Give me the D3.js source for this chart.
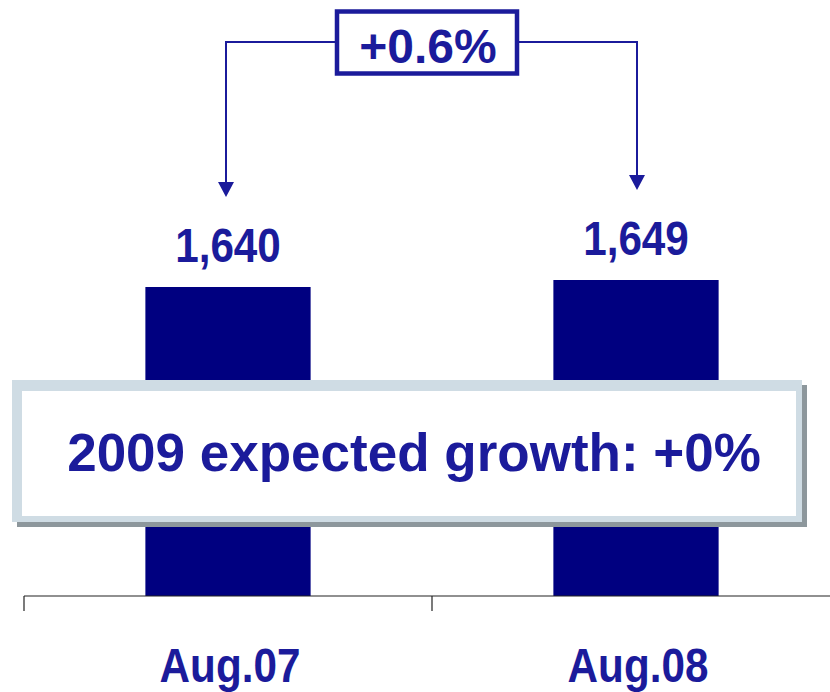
<!DOCTYPE html>
<html>
<head>
<meta charset="utf-8">
<script src="https://cdn.jsdelivr.net/npm/d3@7"></script>
<style>
  html, body { margin: 0; padding: 0; background: #ffffff; }
  svg { display: block; }
  text { font-family: "Liberation Sans", Arial, sans-serif; font-weight: bold; }
</style>
</head>
<body>
<svg id="chart" width="830" height="692"></svg>
<script>
// ---- data ----
const categories = ["Aug.07", "Aug.08"];
const values = [1640, 1649];
const valueLabels = ["1,640", "1,649"];
const changeLabel = "+0.6%";
const noteText = "2009 expected growth: +0%";
const yMin = 1243;

// ---- styles ----
const barColor = "#000080";
const textColor = "#1b1b9b";

const svg = d3.select("#chart");
const W = 830, H = 692;

const x = d3.scaleBand().domain(categories).range([24, 840]).paddingInner(0).paddingOuter(0);
const y = d3.scaleLinear().domain([yMin, d3.max(values)]).range([596, 280]);
const barW = x.bandwidth() * 0.405;
const cx = c => x(c) + x.bandwidth() / 2;

// bars
svg.append("g").selectAll("rect").data(categories).join("rect")
  .attr("x", c => cx(c) - barW / 2)
  .attr("y", (c, i) => y(values[i]))
  .attr("width", barW)
  .attr("height", (c, i) => y(yMin) - y(values[i]))
  .attr("fill", barColor);

// axis line + ticks
const axisY = y(yMin);
const ax = svg.append("g").attr("stroke", "#222").attr("stroke-width", 1.2);
ax.append("line").attr("x1", x.range()[0]).attr("x2", W).attr("y1", axisY).attr("y2", axisY);
ax.selectAll("line.tick").data(categories).join("line").attr("class", "tick")
  .attr("x1", c => x(c)).attr("x2", c => x(c))
  .attr("y1", axisY).attr("y2", axisY + 15);

// category labels (condensed)
svg.append("g").selectAll("text").data(categories).join("text")
  .attr("transform", c => `translate(${cx(c) + 2},682) scale(0.88,1)`)
  .attr("text-anchor", "middle")
  .attr("font-size", 48)
  .attr("fill", textColor)
  .text(c => c);

// value labels
svg.append("g").selectAll("text").data(categories).join("text")
  .attr("transform", (c, i) => `translate(${cx(c)},${y(values[i]) - 25}) scale(0.88,1)`)
  .attr("text-anchor", "middle")
  .attr("font-size", 48)
  .attr("fill", textColor)
  .text((c, i) => valueLabels[i]);

// overlay note box
const nb = svg.append("g");
nb.append("rect").attr("x", 17).attr("y", 385).attr("width", 790).attr("height", 142).attr("fill", "#8d979c");
nb.append("rect").attr("x", 12).attr("y", 380).attr("width", 790).attr("height", 142).attr("fill", "#cfdce4");
nb.append("rect").attr("x", 22).attr("y", 391).attr("width", 774).attr("height", 125).attr("fill", "#ffffff");
nb.append("text").attr("x", 414).attr("y", 471).attr("text-anchor", "middle")
  .attr("font-size", 53).attr("fill", textColor).text(noteText);

// change annotation
const ann = svg.append("g");
const boxL = 337, boxR = 517, boxT = 11.5, boxB = 73.5, lineY = 42;
const x0 = cx(categories[0]) - 2, x1 = cx(categories[1]) + 1;
const tip0 = y(values[0]) - 90, tip1 = y(values[1]) - 90;
const headH = 15, headW = 16;
ann.append("path")
  .attr("d", `M${boxL},${lineY}H${x0}V${tip0 - headH}`)
  .attr("fill", "none").attr("stroke", textColor).attr("stroke-width", 2);
ann.append("path")
  .attr("d", `M${boxR},${lineY}H${x1}V${tip1 - headH}`)
  .attr("fill", "none").attr("stroke", textColor).attr("stroke-width", 2);
ann.append("path")
  .attr("d", `M${x0 - headW/2},${tip0 - headH}L${x0 + headW/2},${tip0 - headH}L${x0},${tip0}Z`)
  .attr("fill", textColor);
ann.append("path")
  .attr("d", `M${x1 - headW/2},${tip1 - headH}L${x1 + headW/2},${tip1 - headH}L${x1},${tip1}Z`)
  .attr("fill", textColor);
ann.append("rect").attr("x", boxL).attr("y", boxT).attr("width", boxR - boxL).attr("height", boxB - boxT)
  .attr("fill", "#ffffff").attr("stroke", textColor).attr("stroke-width", 4.5);
ann.append("text").attr("x", (boxL + boxR) / 2 + 1).attr("y", 63).attr("text-anchor", "middle")
  .attr("font-size", 48).attr("fill", textColor).text(changeLabel);
</script>
</body>
</html>
